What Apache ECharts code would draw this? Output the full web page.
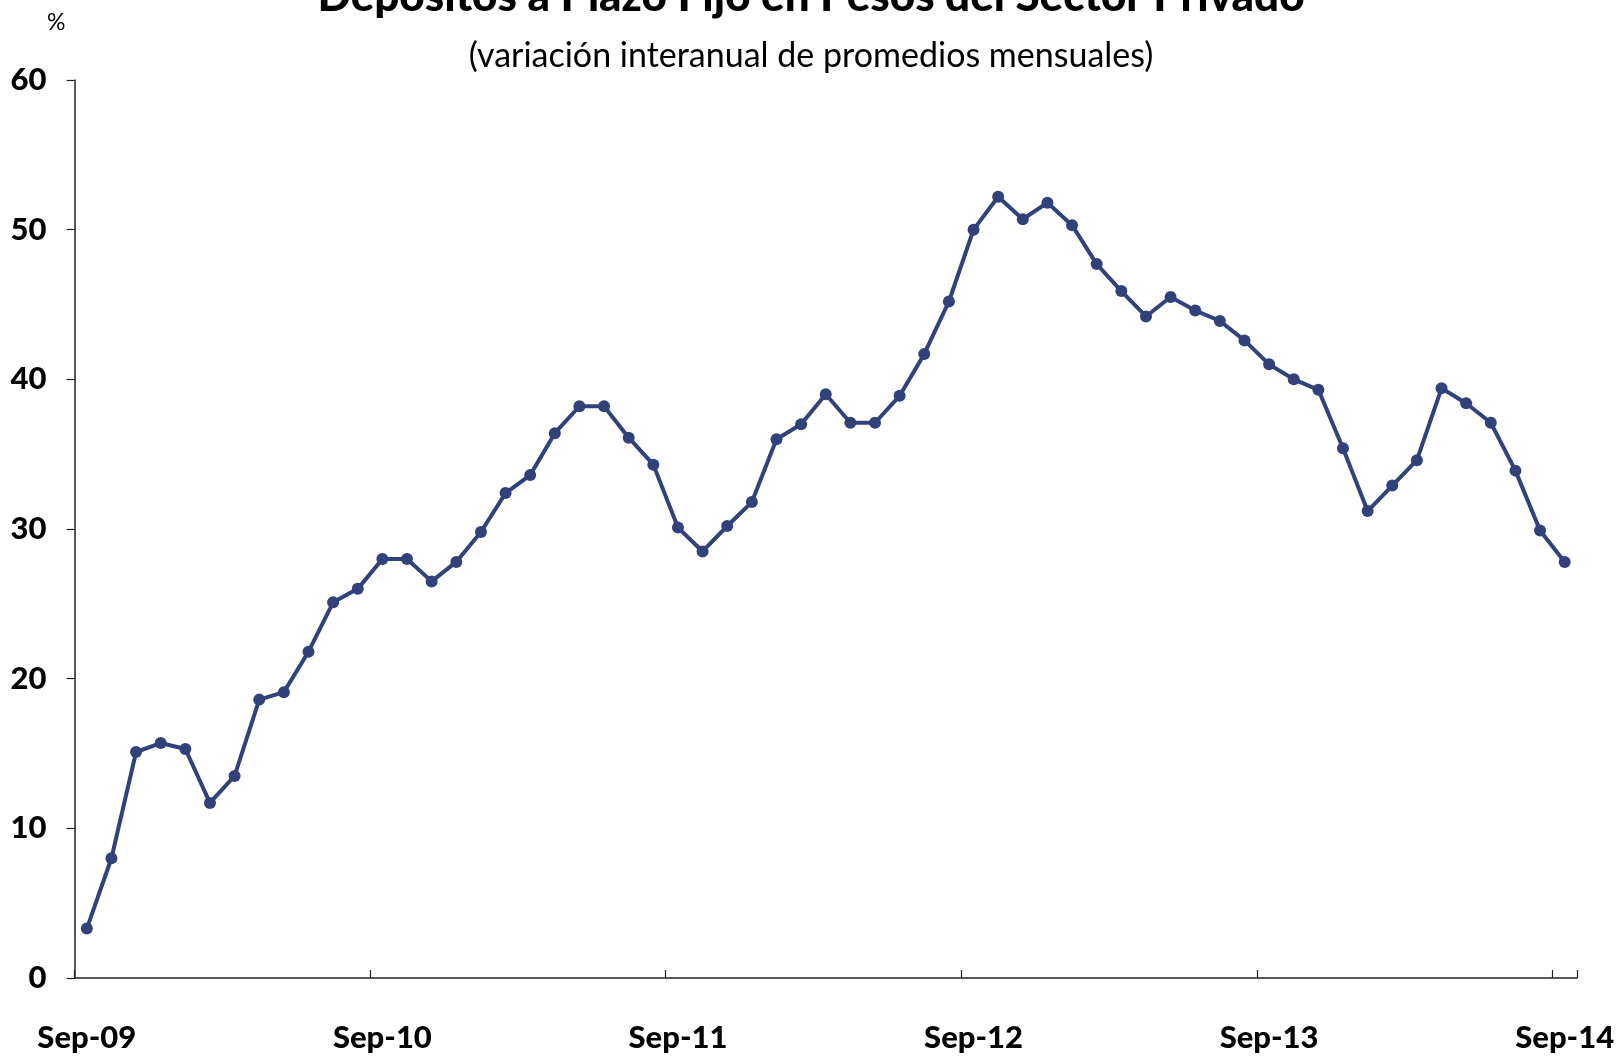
<!DOCTYPE html>
<html>
<head>
<meta charset="utf-8">
<script src="https://cdn.jsdelivr.net/npm/echarts@6/dist/echarts.min.js"></script>
<style>
html,body{margin:0;padding:0;background:#fff;}
#chart{width:1622px;height:1056px;}
</style>
</head>
<body>
<div id="chart"></div>
<script>
const titleText = "Depósitos a Plazo Fijo en Pesos del Sector Privado";
const subtitleText = "(variación interanual de promedios mensuales)";
const unitText = "%";

const categories = [
 "Sep-09","Oct-09","Nov-09","Dec-09","Jan-10","Feb-10","Mar-10","Apr-10","May-10","Jun-10","Jul-10","Aug-10",
 "Sep-10","Oct-10","Nov-10","Dec-10","Jan-11","Feb-11","Mar-11","Apr-11","May-11","Jun-11","Jul-11","Aug-11",
 "Sep-11","Oct-11","Nov-11","Dec-11","Jan-12","Feb-12","Mar-12","Apr-12","May-12","Jun-12","Jul-12","Aug-12",
 "Sep-12","Oct-12","Nov-12","Dec-12","Jan-13","Feb-13","Mar-13","Apr-13","May-13","Jun-13","Jul-13","Aug-13",
 "Sep-13","Oct-13","Nov-13","Dec-13","Jan-14","Feb-14","Mar-14","Apr-14","May-14","Jun-14","Jul-14","Aug-14",
 "Sep-14"
];
const values = [
 3.3, 8.0, 15.1, 15.7, 15.3, 11.7, 13.5, 18.6, 19.1, 21.8, 25.1, 26.0,
 28.0, 28.0, 26.5, 27.8, 29.8, 32.4, 33.6, 36.4, 38.2, 38.2, 36.1, 34.3,
 30.1, 28.5, 30.2, 31.8, 36.0, 37.0, 39.0, 37.1, 37.1, 38.9, 41.7, 45.2,
 50.0, 52.2, 50.7, 51.8, 50.3, 47.7, 45.9, 44.2, 45.5, 44.6, 43.9, 42.6,
 41.0, 40.0, 39.3, 35.4, 31.2, 32.9, 34.6, 39.4, 38.4, 37.1, 33.9, 29.9,
 27.8
];
const yMin = 0, yMax = 60, yStep = 10;
const labelEvery = 12;

const chart = echarts.init(document.getElementById('chart'), null, {renderer:'canvas'});
const FONT = 'Lato';
chart.setOption({
  animation: false,
  backgroundColor: '#ffffff',
  title: [
    {text: titleText, left: 'center', top: -30,
     textStyle:{fontFamily: FONT, fontWeight:900, fontSize:44, color:'#000'}},
    {text: subtitleText, left: 'center', top: 34,
     textStyle:{fontFamily: FONT, fontWeight:'normal', fontSize:34, color:'#000'}}
  ],
  graphic: [
    {type:'text', left: 47, top: 11, style:{text: unitText, fontFamily: FONT, fontSize: 23, fill:'#000'}}
  ],
  grid: {left: 74.5, top: 80, right: 45, bottom: 78, containLabel: false},
  xAxis: {
    type: 'category',
    data: categories,
    boundaryGap: true,
    axisLine: {show:true, lineStyle:{color:'#222', width:1.5}},
    axisTick: {show:true, inside:true, length:8,
               interval: function(i){ return i % labelEvery === 0; },
               lineStyle:{color:'#222', width:1.2}},
    axisLabel: {interval: labelEvery - 1, margin: 44, fontFamily: FONT, fontWeight:900, fontSize: 31, color:'#000'},
    splitLine: {show:false}
  },
  yAxis: {
    type: 'value',
    min: yMin, max: yMax, interval: yStep,
    axisLine: {show:true, lineStyle:{color:'#222', width:1.5}},
    axisTick: {show:true, inside:false, length:8, lineStyle:{color:'#222', width:1.2}},
    axisLabel: {margin: 28, fontFamily: FONT, fontWeight:900, fontSize: 31, color:'#000'},
    splitLine: {show:false}
  },
  series: [{
    type: 'line',
    data: values,
    symbol: 'circle',
    symbolSize: 12,
    showAllSymbol: true,
    lineStyle: {color:'#31427a', width:4},
    itemStyle: {color:'#31427a'},
    clip: false
  }]
});
</script>
</body>
</html>
